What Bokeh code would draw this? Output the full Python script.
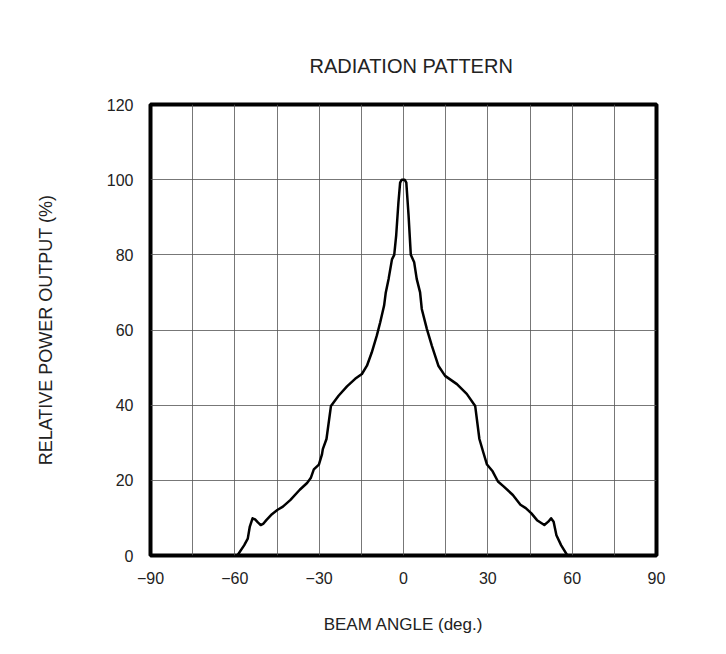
from bokeh.plotting import figure
from bokeh.models import FixedTicker
from bokeh.embed import file_html
from bokeh.resources import INLINE

# ---- data ----
angle = [-59.1, -56.7, -55.4, -54.7, -53.7, -52.8, -51.8, -50.8, -49.8, -48.8,
         -46.8, -44.9, -42.9, -40.2, -36.9, -34.3, -33.0, -31.9, -30.1, -29.0,
         -28.7, -27.4, -25.8, -23.1, -20.1, -17.2, -14.8, -13.0, -11.3, -9.5,
         -8.3, -6.9, -6.3, -5.3, -4.1, -3.3, -2.6, -1.8, -1.2, -0.6,
         0.4, 1.0, 1.8, 2.6, 3.8, 4.7, 5.9, 6.5, 8.3, 10.1,
         12.4, 14.8, 19.0, 22.5, 25.5, 27.0, 28.4, 29.7, 31.7, 33.6,
         35.6, 38.9, 41.6, 43.5, 45.5, 47.5, 50.1, 51.5, 52.5, 53.4,
         54.4, 56.1, 58.3]
power = [0.0, 2.7, 4.5, 7.6, 9.9, 9.6, 8.8, 8.1, 8.5, 9.4,
         11.0, 12.1, 13.0, 14.8, 17.5, 19.3, 20.6, 22.9, 24.2, 26.9,
         28.3, 31.0, 39.8, 42.5, 45.0, 47.0, 48.3, 50.5, 54.0, 58.5,
         62.0, 66.5, 70.0, 73.6, 78.8, 80.0, 85.2, 94.0, 99.2, 100.0,
         100.0, 99.2, 90.5, 80.0, 78.0, 73.6, 70.0, 65.6, 60.3, 55.8,
         50.5, 47.8, 45.6, 43.0, 39.8, 31.0, 27.4, 24.2, 22.4, 19.7,
         18.4, 16.1, 13.5, 12.6, 11.2, 9.4, 8.1, 9.0, 9.9, 9.0,
         5.4, 2.7, 0.0]

x_label_ticks = [-90, -60, -30, 0, 30, 60, 90]
x_tick_labels = ["\u221290", "\u221260", "\u221230", "0", "30", "60", "90"]
x_grid_ticks = [-90, -75, -60, -45, -30, -15, 0, 15, 30, 45, 60, 75, 90]
y_ticks = [0, 20, 40, 60, 80, 100, 120]

FONT = "Liberation Sans"
TEXT = "#222222"

p = figure(width=710, height=638, output_backend="svg", toolbar_location=None,
           x_range=(-90, 90), y_range=(0, 120),
           min_border_left=150, min_border_right=54,
           min_border_top=104, min_border_bottom=83,
           title="RADIATION PATTERN")

p.title.align = "left"
p.title.text_font = FONT
p.title.text_font_size = "20px"
p.title.text_font_style = "normal"
p.title.text_color = TEXT
p.title.standoff = 56
p.title.offset = 159

p.outline_line_color = "black"
p.outline_line_width = 4

p.xaxis.ticker = FixedTicker(ticks=x_label_ticks)
p.xaxis.major_label_overrides = dict(zip(x_label_ticks, x_tick_labels))
p.yaxis.ticker = FixedTicker(ticks=y_ticks)

p.xgrid.ticker = FixedTicker(ticks=x_grid_ticks)
p.ygrid.ticker = FixedTicker(ticks=y_ticks)
for g in (p.xgrid, p.ygrid):
    g.grid_line_color = "#555555"
    g.grid_line_width = 1
    g.grid_line_alpha = 0.8

for ax in (p.xaxis, p.yaxis):
    ax.axis_line_color = None
    ax.major_tick_line_color = None
    ax.minor_tick_line_color = None
    ax.major_label_text_font = FONT
    ax.major_label_text_font_size = "16px"
    ax.major_label_text_color = TEXT
    ax.axis_label_text_font = FONT
    ax.axis_label_text_font_style = "normal"
    ax.axis_label_text_color = TEXT

p.xaxis.axis_label_text_font_size = "17px"
p.yaxis.axis_label_text_font_size = "18px"
p.xaxis.axis_label = "BEAM ANGLE (deg.)"
p.yaxis.axis_label = "RELATIVE POWER OUTPUT (%)"
p.xaxis.major_label_standoff = 10
p.yaxis.major_label_standoff = 11
p.xaxis.axis_label_standoff = 28
p.yaxis.axis_label_standoff = 48

p.line(angle, power, line_color="black", line_width=2.5, line_join="round")

open("out.html", "w").write(file_html(p, INLINE))
